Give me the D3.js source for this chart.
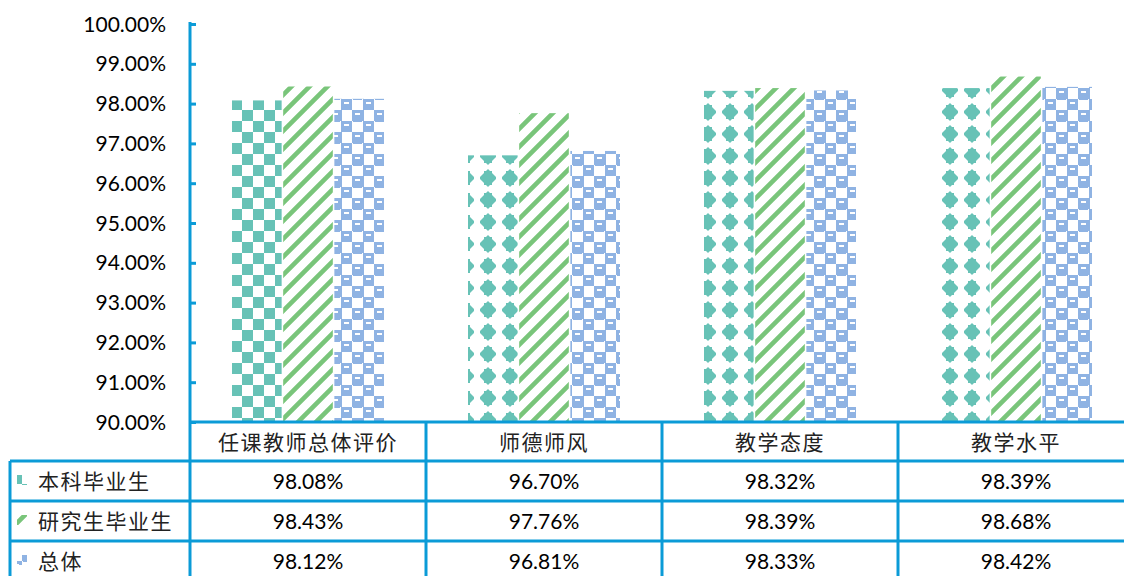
<!DOCTYPE html>
<html><head><meta charset="utf-8">
<script src="https://cdn.jsdelivr.net/npm/d3@7"></script>
<style>
html,body{margin:0;padding:0;background:#fff;}
svg{display:block;}
</style></head>
<body>
<svg id="chart" width="1124" height="576"></svg>
<script>
const categories = ["任课教师总体评价","师德师风","教学态度","教学水平"];
const seriesNames = ["本科毕业生","研究生毕业生","总体"];
const undergrad = [98.08, 96.70, 98.32, 98.39];
const graduate = [98.43, 97.76, 98.39, 98.68];
const overall = [98.12, 96.81, 98.33, 98.42];
const yTicks = [90,91,92,93,94,95,96,97,98,99,100];

const seriesValues = [undergrad, graduate, overall];
const lineColor = "#0b9bd7";
const teal = "#67c2b6", green = "#79c57a", blue = "#8fb3e3";
const numFont = "Lato, 'Open Sans', sans-serif";
const cjkFont = "'Noto Sans CJK SC', sans-serif";

const svg = d3.select("#chart");
const defs = svg.append("defs");

// checker pattern (teal, first category)
let p = defs.append("pattern").attr("id","pChecker").attr("patternUnits","userSpaceOnUse")
  .attr("width",22).attr("height",22);
p.append("rect").attr("x",0).attr("y",0).attr("width",11).attr("height",11).attr("fill",teal);
p.append("rect").attr("x",11).attr("y",11).attr("width",11).attr("height",11).attr("fill",teal);

// diamond pattern (teal)
p = defs.append("pattern").attr("id","pDiamond").attr("patternUnits","userSpaceOnUse")
  .attr("x",477).attr("y",167).attr("width",22).attr("height",22);
p.append("path").attr("d","M11,2 L13,4 L15,4 L15,6 L17,8 L19,10 L19,12 L17,14 L15,16 L15,18 L13,18 L11,20 L9,18 L7,18 L7,16 L5,14 L3,12 L3,10 L5,8 L7,6 L7,4 L9,4 Z")
  .attr("fill",teal);

// diagonal stripes (green)
p = defs.append("pattern").attr("id","pStripe").attr("patternUnits","userSpaceOnUse")
  .attr("width",18).attr("height",18);
p.append("path").attr("d","M-5,5 L5,-5 M0,18 L18,0 M13,23 L23,13")
  .attr("stroke",green).attr("stroke-width",4.6).attr("fill","none");

// blue shingle pattern
p = defs.append("pattern").attr("id","pShingle").attr("patternUnits","userSpaceOnUse")
  .attr("width",22).attr("height",22);
p.append("rect").attr("x",0).attr("y",0).attr("width",12).attr("height",11).attr("fill",blue);
p.append("rect").attr("x",11).attr("y",11).attr("width",11).attr("height",11).attr("fill",blue);
p.append("rect").attr("x",1).attr("y",11).attr("width",9).attr("height",1).attr("fill",blue);
p.append("rect").attr("x",3).attr("y",3).attr("width",5).attr("height",2).attr("fill","#fff");
p.append("rect").attr("x",14).attr("y",14).attr("width",5).attr("height",2).attr("fill","#fff");

function fillFor(si, ci){
  if(si===0) return ci===0 ? "url(#pChecker)" : "url(#pDiamond)";
  if(si===1) return "url(#pStripe)";
  return "url(#pShingle)";
}

const x = d3.scaleBand().domain(categories).range([190, 1134]).paddingInner(0).paddingOuter(0);
const xs = d3.scaleBand().domain(seriesNames).range([42, 194]).paddingInner(0.03);
const y = d3.scaleLinear().domain([90,100]).range([422, 24]);

// bars
const gBars = svg.append("g");
seriesNames.forEach((s, si) => {
  gBars.selectAll(null).data(categories).enter().append("rect")
    .attr("x", c => x(c) + xs(s))
    .attr("width", xs.bandwidth())
    .attr("y", (c,ci) => y(seriesValues[si][ci]))
    .attr("height", (c,ci) => y(90) - y(seriesValues[si][ci]))
    .attr("fill", (c,ci) => fillFor(si, ci));
});

// y axis
const yAxis = d3.axisRight(y).tickValues(yTicks).tickSize(6).tickFormat("");
const gy = svg.append("g").attr("transform","translate(190,0)").call(yAxis);
gy.select(".domain").attr("stroke",lineColor).attr("stroke-width",3).attr("d","M0,22V422");
gy.selectAll(".tick line").attr("stroke",lineColor).attr("stroke-width",3);

svg.append("g").selectAll("text").data(yTicks).enter().append("text")
  .attr("x",166).attr("y", d => y(d)).attr("dy","0.36em")
  .attr("text-anchor","end").attr("font-family",numFont).attr("font-size",21).attr("fill","#000")
  .text(d => d3.format(".2f")(d) + "%");

// table
const rowTop = [422, 461, 501, 541];
const tbl = svg.append("g");
// category header
tbl.selectAll(null).data(categories).enter().append("text")
  .attr("x", c => x(c) + x.bandwidth()/2).attr("y", 442).attr("dy","0.36em")
  .attr("text-anchor","middle").attr("font-family",cjkFont).attr("font-size",21)
  .attr("letter-spacing",1.5).attr("fill","#222").text(c => c);
// rows
seriesNames.forEach((s, si) => {
  const cy = rowTop[si+1] + 20;
  tbl.append("rect").attr("x",17).attr("y",cy-6).attr("width",10).attr("height",10)
    .attr("fill", fillFor(si, 0)).attr("stroke","none");
  tbl.append("text").attr("x",38).attr("y",cy).attr("dy","0.36em")
    .attr("font-family",cjkFont).attr("font-size",21).attr("letter-spacing",1.5)
    .attr("fill","#222").text(s);
  tbl.selectAll(null).data(categories).enter().append("text")
    .attr("x", c => x(c) + x.bandwidth()/2).attr("y", cy).attr("dy","0.36em")
    .attr("text-anchor","middle").attr("font-family",numFont).attr("font-size",21)
    .attr("fill","#000").text((c,ci) => d3.format(".2f")(seriesValues[si][ci]) + "%");
});
// grid lines
const ln = (x1,y1,x2,y2) => tbl.append("line").attr("x1",x1).attr("y1",y1).attr("x2",x2).attr("y2",y2)
  .attr("stroke",lineColor).attr("stroke-width",3);
ln(190, 422, 1124, 422);
ln(10, 461, 1124, 461);
ln(10, 501, 1124, 501);
ln(10, 541, 1124, 541);
ln(10, 461, 10, 576);
categories.forEach(c => { if (x(c) > 190) ln(x(c), 422, x(c), 576); });
ln(190, 422, 190, 576);
</script>
</body></html>
